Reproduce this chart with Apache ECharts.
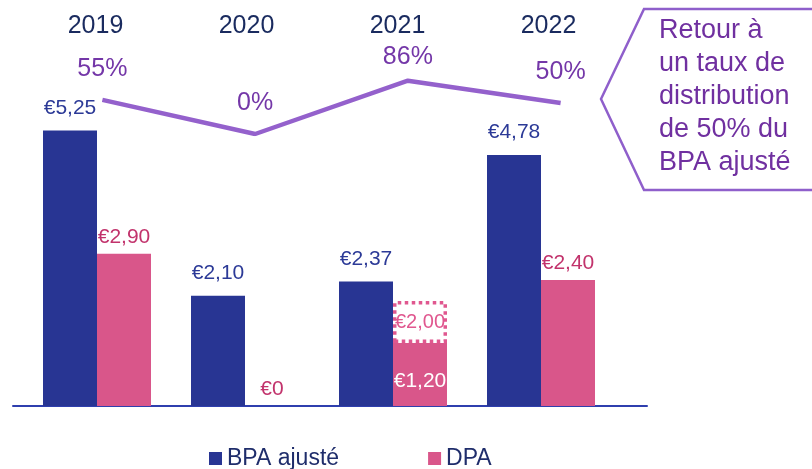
<!DOCTYPE html>
<html>
<head>
<meta charset="utf-8">
<script src="https://cdn.jsdelivr.net/npm/echarts@6/dist/echarts.min.js"></script>
<style>
  html, body { margin: 0; padding: 0; background: #fff; }
  #chart { width: 812px; height: 469px; }
</style>
</head>
<body>
<div id="chart"></div>
<script>
const years = ["2019", "2020", "2021", "2022"];
const bpaAjuste = [5.25, 2.10, 2.37, 4.78];
const dpa = [2.90, 0, 1.20, 2.40];
const dpaCible = [null, null, 2.00, null];
const tauxDistribution = [55, 0, 86, 50];
const calloutLines = ["Retour à", "un taux de", "distribution", "de 50% du", "BPA ajusté"];

const FONT = "'Liberation Sans', Arial, sans-serif";
const colors = {
    bpa: "#283593",
    bpaLabel: "#2c3a97",
    dpa: "#d9568a",
    dpaLabel: "#c2336c",
    cible: "#e0578f",
    line: "#9461cc",
    pct: "#7437a8",
    navy: "#1a2b5f",
    callout: "#7030a0",
    calloutBorder: "#8f5fcb",
    axis: "#2f3fae",
};

function fmtEuro(v) {
    if (v === 0) return "€0";
    return "€" + v.toFixed(2).replace(".", ",");
}

const chart = echarts.init(document.getElementById("chart"));

// DPA bars: where a target exists, the actual value label goes inside, in white
const dpaData = dpa.map((v, i) => dpaCible[i] != null
    ? { value: v, label: { position: "insideBottom", distance: 14, color: "#fff" } }
    : v);
// stacked outline from the paid DPA up to the target
const cibleData = dpaCible.map((v, i) => v == null ? "-" : { value: v - dpa[i], cible: v });
const tauxData = tauxDistribution.map((v) => v === Math.max(...tauxDistribution)
    ? { value: v, label: { distance: 11 } }
    : v);

const hiddenY = { type: "value", show: false, splitLine: { show: false } };

chart.setOption({
    animation: false,
    textStyle: { fontFamily: FONT },
    grid: [
        { left: 23, right: 197, top: 38.5, bottom: 63 },
        { left: 26, right: 175, top: 72, bottom: 335 },
        { left: 20, right: 188, top: 40, bottom: 300 },
        { left: 13, right: 165, top: 300, bottom: 63 },
    ],
    xAxis: [
        { type: "category", gridIndex: 0, data: years, show: false },
        { type: "category", gridIndex: 1, data: years, show: false },
        {
            type: "category", gridIndex: 2, data: years, position: "top",
            axisLine: { show: false }, axisTick: { show: false },
            axisLabel: { fontSize: 25, color: colors.navy, margin: 1, fontFamily: FONT },
        },
        {
            type: "value", gridIndex: 3, min: 0, max: 1,
            axisLine: { show: true, lineStyle: { color: colors.axis, width: 2 } },
            axisTick: { show: false }, axisLabel: { show: false }, splitLine: { show: false },
        },
    ],
    yAxis: [
        Object.assign({ gridIndex: 0, min: 0, max: 7 }, hiddenY),
        Object.assign({ gridIndex: 1, min: 0, max: 100 }, hiddenY),
        Object.assign({ gridIndex: 2 }, hiddenY),
        Object.assign({ gridIndex: 3, min: 0, max: 1 }, hiddenY),
    ],
    legend: {
        data: ["BPA ajusté", "DPA"],
        left: 204,
        top: 442,
        icon: "rect",
        itemWidth: 13,
        itemHeight: 13,
        itemGap: 89,
        textStyle: { fontSize: 23, color: "#1f2d6b", fontFamily: FONT },
    },
    series: [
        {
            name: "BPA ajusté",
            type: "bar",
            xAxisIndex: 0, yAxisIndex: 0,
            barWidth: 54,
            barGap: "0%",
            itemStyle: { color: colors.bpa },
            label: {
                show: true, position: "top", distance: 12,
                fontSize: 21, color: colors.bpaLabel,
                formatter: (p) => fmtEuro(p.value),
            },
            data: bpaAjuste,
        },
        {
            name: "DPA",
            type: "bar",
            stack: "dpa",
            xAxisIndex: 0, yAxisIndex: 0,
            barWidth: 54,
            barGap: "0%",
            itemStyle: { color: colors.dpa },
            label: {
                show: true, position: "top", distance: 6,
                fontSize: 21, color: colors.dpaLabel,
                formatter: (p) => fmtEuro(p.value),
            },
            data: dpaData,
        },
        {
            name: "DPA cible",
            type: "bar",
            stack: "dpa",
            xAxisIndex: 0, yAxisIndex: 0,
            barWidth: 54,
            barGap: "0%",
            itemStyle: {
                color: "#fff",
                borderColor: colors.cible,
                borderWidth: 3.5,
                borderType: [3.5, 3.5],
            },
            label: {
                show: true, position: "inside",
                fontSize: 20, color: colors.cible,
                formatter: (p) => fmtEuro(p.data.cible),
            },
            data: cibleData,
        },
        {
            name: "Taux de distribution",
            type: "line",
            xAxisIndex: 1, yAxisIndex: 1,
            symbol: "circle",
            symbolSize: 0,
            showSymbol: true,
            lineStyle: { color: colors.line, width: 4.5 },
            itemStyle: { color: colors.line },
            label: {
                show: true, position: "top", distance: 18,
                fontSize: 25, color: colors.pct,
                formatter: (p) => p.value + "%",
            },
            data: tauxData,
        },
    ],
    graphic: [
        {
            type: "polygon",
            shape: { points: [[601, 99], [644, 9], [820, 9], [820, 190], [644, 190]] },
            style: { fill: "transparent", stroke: colors.calloutBorder, lineWidth: 2.5 },
        },
        {
            type: "text",
            x: 659,
            y: 14,
            style: {
                text: calloutLines.join("\n"),
                fontSize: 27,
                fontFamily: FONT,
                lineHeight: 33,
                fill: colors.callout,
                verticalAlign: "top",
            },
        },
    ],
});

window.addEventListener("resize", () => chart.resize());
</script>
</body>
</html>
